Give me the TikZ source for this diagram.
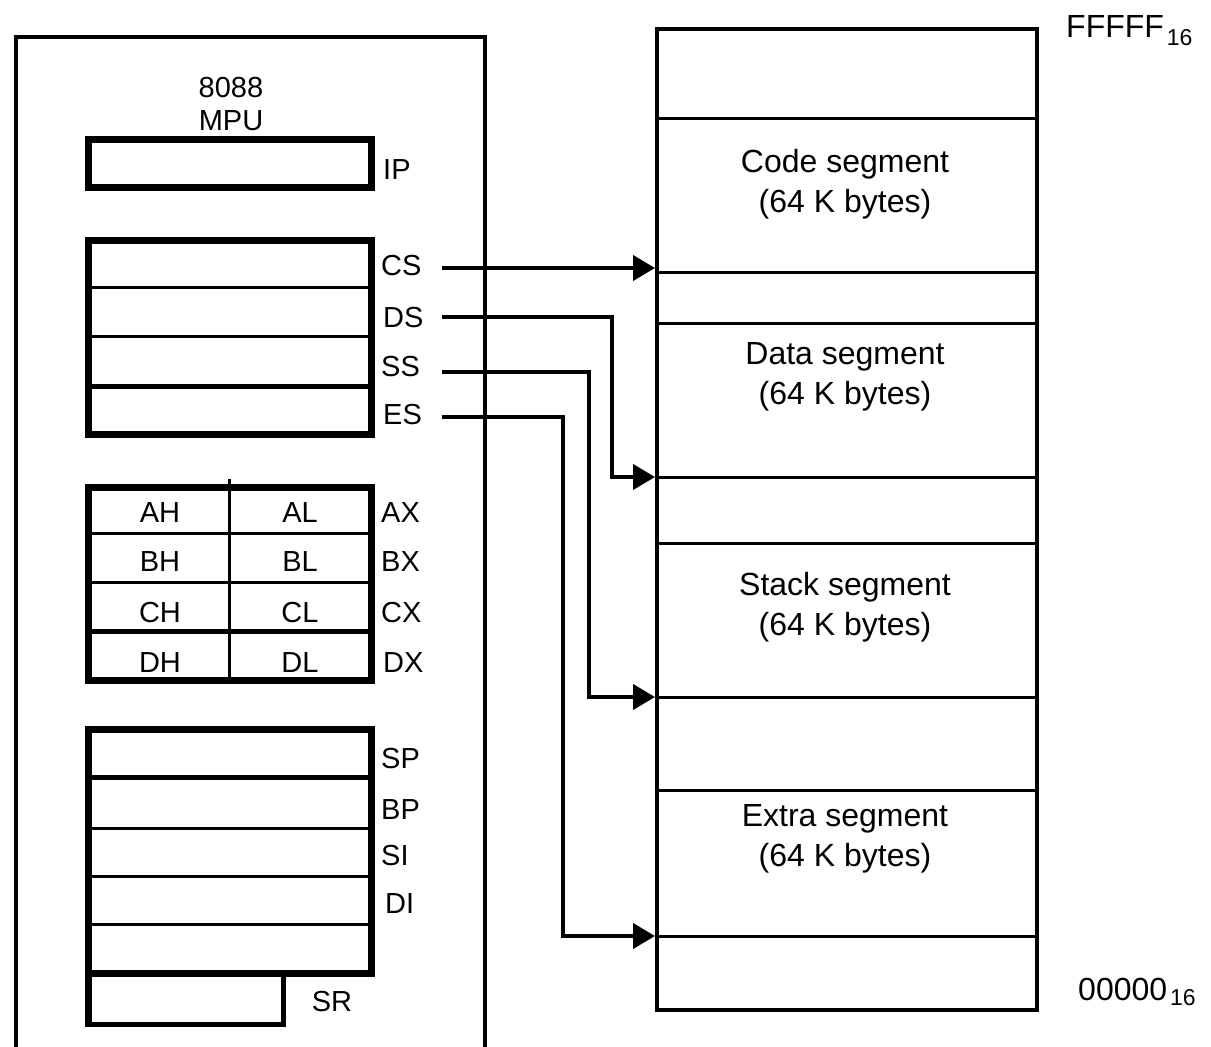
\documentclass[tikz,border=0pt]{standalone}
\usepackage{fontspec}
\setmainfont{Liberation Sans}
\usetikzlibrary{arrows.meta}
\begin{document}
\begin{tikzpicture}[x=1pt,y=-1pt,
  reglab/.style={anchor=west,inner sep=0pt,font=\fontsize{29}{34}\selectfont},
  celltxt/.style={inner sep=0pt,font=\fontsize{29}{34}\selectfont},
  memtxt/.style={align=center,inner sep=0pt,font=\fontsize{32}{40}\selectfont},
  addr/.style={anchor=base west,inner sep=0pt,font=\fontsize{32}{36}\selectfont},
  heavy/.style={line width=7pt},
  medium/.style={line width=5pt},
  light/.style={line width=3pt},
  outline/.style={line width=4pt},
  conn/.style={line width=4pt,-{Triangle[length=22pt,width=25pt]}}]
\useasboundingbox (0,0) rectangle (1211,1047);
\fill[white] (0,0) rectangle (1211,1047);

% MPU outline (open at bottom)
\draw[outline] (15.5,1047) -- (15.5,36.5) -- (485,36.5) -- (485,1047);
\node[align=center,inner sep=0pt,font=\fontsize{29}{33}\selectfont] (title) at (231,104) {8088\\MPU};

% IP
\draw[heavy] (88,139) rectangle (371,187);
\node[reglab] (ip) at (383,170) {IP};

% segment registers
\draw[light] (88,287) -- (371,287);
\draw[light] (88,336) -- (371,336);
\draw[medium] (88,386) -- (371,386);
\draw[heavy] (88,240) rectangle (371,434);
\node[reglab] (cs) at (381,266) {CS};
\node[reglab] (ds) at (383,318) {DS};
\node[reglab] (ss) at (381,367) {SS};
\node[reglab] (es) at (383,415) {ES};

% general registers
\draw[light] (229,479) -- (229,683);
\draw[light] (88,533) -- (371,533);
\draw[light] (88,582) -- (371,582);
\draw[medium] (88,631) -- (371,631);
\draw[heavy] (88,487) rectangle (371,680);
\node[celltxt] (ah) at (160,513) {AH};
\node[celltxt] (al) at (300,513) {AL};
\node[reglab] (ax) at (381,513) {AX};
\node[celltxt] (bh) at (160,562) {BH};
\node[celltxt] (bl) at (300,562) {BL};
\node[reglab] (bx) at (381,562) {BX};
\node[celltxt] (ch) at (160,613) {CH};
\node[celltxt] (cl) at (300,613) {CL};
\node[reglab] (cx) at (381,613) {CX};
\node[celltxt] (dh) at (160,663) {DH};
\node[celltxt] (dl) at (300,663) {DL};
\node[reglab] (dx) at (383,663) {DX};

% pointer and index registers
\draw[medium] (88,777) -- (371,777);
\draw[light] (88,828) -- (371,828);
\draw[light] (88,876) -- (371,876);
\draw[light] (88,924) -- (371,924);
\draw[heavy] (88,729) rectangle (371,973);
\draw[medium] (88,973) -- (88,1024.5) -- (283,1024.5) -- (283,973);
\draw[heavy] (88,970) -- (88,1027);
\node[reglab] (sp) at (381,759) {SP};
\node[reglab] (bp) at (381,810) {BP};
\node[reglab] (si) at (381,856) {SI};
\node[reglab] (di) at (385,904) {DI};
\node[celltxt] (sr) at (332,1002) {SR};

% memory
\draw[light] (657,118) -- (1037,118);
\draw[light] (657,272) -- (1037,272);
\draw[light] (657,323) -- (1037,323);
\draw[light] (657,477) -- (1037,477);
\draw[light] (657,543) -- (1037,543);
\draw[light] (657,697) -- (1037,697);
\draw[light] (657,790) -- (1037,790);
\draw[light] (657,936) -- (1037,936);
\draw[outline] (657,29) rectangle (1037,1010);
\node[memtxt] (code) at (845,184) {Code segment\\(64 K bytes)};
\node[memtxt] (data) at (845,377) {Data segment\\(64 K bytes)};
\node[memtxt] (stack) at (845,607) {Stack segment\\(64 K bytes)};
\node[memtxt] (extra) at (845,839) {Extra segment\\(64 K bytes)};
\node[addr] (top) at (1066,37) {FFFFF\hspace{3pt}\raisebox{-8pt}{\fontsize{23}{23}\selectfont 16}};
\node[addr] (bot) at (1078,1000) {00000\hspace{3pt}\raisebox{-5pt}{\fontsize{23}{23}\selectfont 16}};

% connectors
\coordinate (csS) at (442,268);
\coordinate (dsS) at (442,317);
\coordinate (ssS) at (442,372);
\coordinate (esS) at (442,417);
\coordinate (csT) at (655,268);
\coordinate (dsT) at (655,477);
\coordinate (ssT) at (655,697);
\coordinate (esT) at (655,936);
\draw[conn] (csS) -- (csT);
\draw[conn] (dsS) -| (612,477) -- (dsT);
\draw[conn] (ssS) -| (589,697) -- (ssT);
\draw[conn] (esS) -| (563,936) -- (esT);
\end{tikzpicture}
\end{document}
